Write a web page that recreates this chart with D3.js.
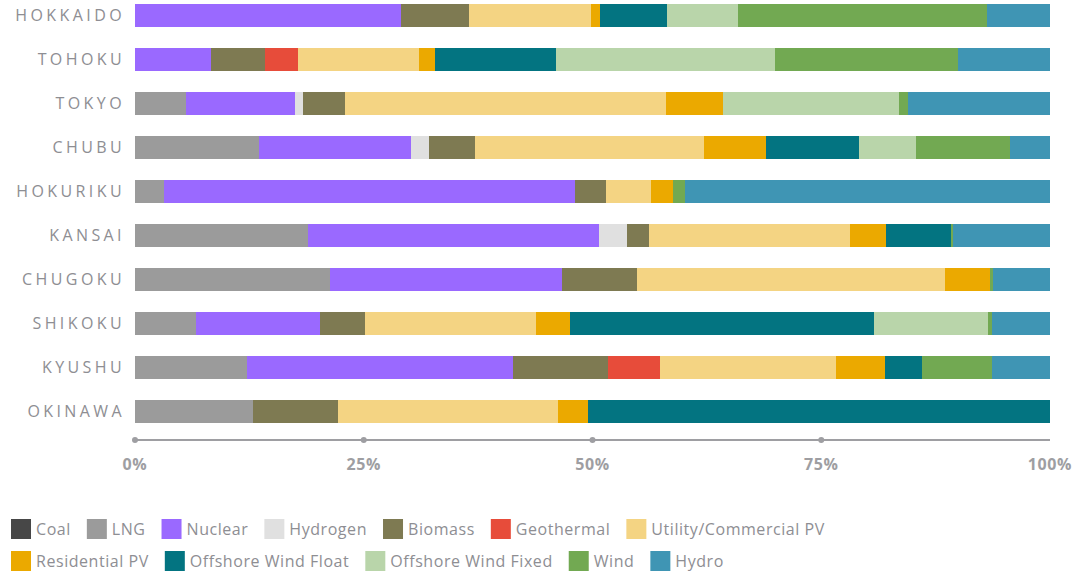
<!DOCTYPE html>
<html>
<head>
<meta charset="utf-8">
<script src="https://cdn.jsdelivr.net/npm/d3@7"></script>
<style>
  html, body { margin: 0; padding: 0; background: #fff; }
  svg { display: block; font-family: "Open Sans", sans-serif; }
</style>
</head>
<body>
<svg id="chart" width="1078" height="573"></svg>
<script>
const regions = ["HOKKAIDO","TOHOKU","TOKYO","CHUBU","HOKURIKU","KANSAI","CHUGOKU","SHIKOKU","KYUSHU","OKINAWA"];
const sources = ["Coal","LNG","Nuclear","Hydrogen","Biomass","Geothermal","Utility/Commercial PV","Residential PV","Offshore Wind Float","Offshore Wind Fixed","Wind","Hydro"];
const colors = ["#474747","#9b9b9b","#9a69ff","#e0e0e0","#7e7a52","#e74c3a","#f4d483","#eba900","#037481","#b9d5aa","#72a952","#3f95b4"];

// shares (%) by region, in the order of `regions`
const coal        = [0,0,0,0,0,0,0,0,0,0];
const lng         = [0,0,5.57,13.55,3.16,18.9,21.31,6.66,12.24,12.91];
const nuclear     = [29.1,8.32,11.94,16.61,44.97,31.83,25.4,13.56,29.1,0];
const hydrogen    = [0,0,0.86,1.99,0,3.09,0,0,0,0];
const biomass     = [7.45,5.87,4.6,5.01,3.36,2.37,8.18,4.93,10.38,9.27];
const geothermal  = [0,3.62,0,0,0,0,0,0,5.7,0];
const utilityPV   = [13.25,13.25,35.1,25.07,4.93,22.02,33.68,18.68,19.15,24.07];
const residentialPV = [1.07,1.73,6.23,6.77,2.41,3.94,4.82,3.72,5.35,3.29];
const offshoreFloat = [7.34,13.23,0,10.09,0,7.11,0,33.26,4.05,50.46];
const offshoreFixed = [7.76,23.97,19.15,6.23,0,0,0,12.46,0,0];
const wind        = [27.14,19.92,0.99,10.28,1.3,0.15,0.34,0.35,7.65,0];
const hydro       = [6.92,10.09,15.56,4.4,39.87,10.66,6.27,6.38,6.38,0];
const xTicks = [0, 0.25, 0.5, 0.75, 1];

const seriesValues = [coal,lng,nuclear,hydrogen,biomass,geothermal,utilityPV,residentialPV,offshoreFloat,offshoreFixed,wind,hydro];
const rows = regions.map((r,i) => {
  const o = {region: r};
  sources.forEach((s,j) => o[s] = seriesValues[j][i]);
  return o;
});

const svg = d3.select("#chart");
const x = d3.scaleLinear().domain([0,1]).range([135,1050]);
const y = d3.scaleBand().domain(regions).range([-6.5,433.5]).paddingInner(21/44).paddingOuter(21/88);

const stack = d3.stack().keys(sources).offset(d3.stackOffsetExpand);
const stacked = stack(rows);
const color = d3.scaleOrdinal().domain(sources).range(colors);

svg.append("g").selectAll("g").data(stacked).join("g")
  .attr("fill", d => color(d.key))
  .selectAll("rect").data(d => d).join("rect")
  .attr("x", d => x(d[0]))
  .attr("y", d => y(d.data.region))
  .attr("width", d => Math.max(0, x(d[1]) - x(d[0])))
  .attr("height", y.bandwidth())
  .attr("shape-rendering","crispEdges");

// category labels
svg.append("g").selectAll("text").data(regions).join("text")
  .attr("x", 125)
  .attr("y", d => y(d) + y.bandwidth()/2)
  .attr("dy", "0.36em")
  .attr("text-anchor","end")
  .attr("fill","#8e8e93")
  .style("font-size","16px")
  .style("letter-spacing","3.4px")
  .text(d => d);

// x axis
const axisY = 440;
const ax = svg.append("g");
ax.append("line").attr("x1", x(0)).attr("x2", x(1)).attr("y1", axisY).attr("y2", axisY)
  .attr("stroke","#9e9ea2").attr("stroke-width",2);
ax.selectAll("circle").data(xTicks.slice(0,4)).join("circle")
  .attr("cx", d => x(d)).attr("cy", axisY).attr("r", 3).attr("fill","#9e9ea2");
ax.selectAll("text").data(xTicks).join("text")
  .attr("x", d => x(d)).attr("y", 470)
  .attr("text-anchor","middle")
  .attr("fill","#9e9ea2")
  .style("font-size","16px").style("font-weight","700")
  .style("letter-spacing","0.6px")
  .text(d3.format(".0%"));

// legend
const legend = svg.append("g");
const rowsBreak = 7;
let lx = 11, ly = 519;
sources.forEach((s,i) => {
  if (i === rowsBreak) { lx = 11; ly = 551; }
  const g = legend.append("g").attr("transform", `translate(${lx},${ly})`);
  g.append("rect").attr("width",20).attr("height",20).attr("fill", colors[i]);
  const t = g.append("text").attr("x", 25).attr("y", 10).attr("dy","0.36em")
    .attr("fill","#8e8e93").style("font-size","16px").style("letter-spacing","0.55px").text(s);
  lx += 25 + t.node().getComputedTextLength() + 16;
});
</script>
</body>
</html>
